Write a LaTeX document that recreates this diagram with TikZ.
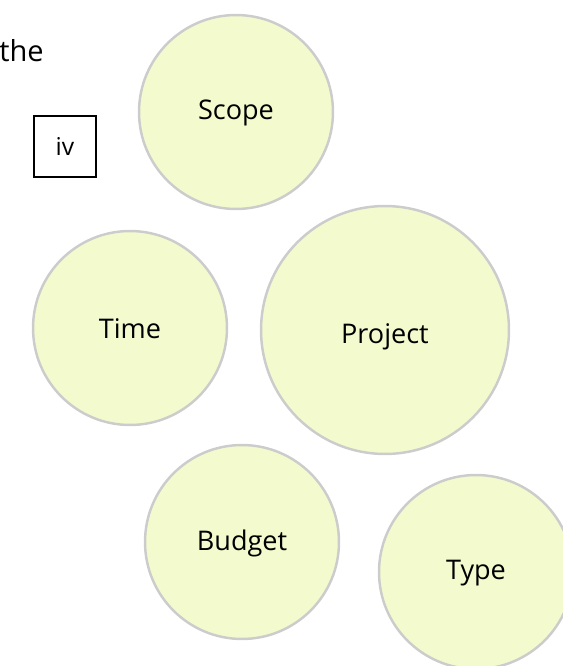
\documentclass[tikz,border=0pt]{standalone}
\usepackage{fontspec}
\setmainfont{Open Sans}
\usepackage{tikz}

\definecolor{topicfill}{RGB}{243,251,206}
\definecolor{topicline}{RGB}{204,204,204}

\tikzset{
  topic/.style={circle, draw=topicline, fill=topicfill, line width=1.4pt,
    inner sep=0pt},
  topictext/.style={font=\fontsize{15.4}{17}\selectfont},
  tagbox/.style={draw=black, line width=1.5pt, minimum width=1.24cm,
    minimum height=1.22cm, inner sep=0pt, font=\fontsize{14}{16}\selectfont}
}

\begin{document}
\begin{tikzpicture}[x=0.02cm,y=-0.02cm]
			\useasboundingbox (0,0) rectangle (562,666);
			\coordinate (centro) at (385,330);

			% circles
			\node[topic, minimum size=3.88cm] (scope) at (236,112) {};
			\node[topic, minimum size=3.88cm] (time) at (130,328) {};
			\node[topic, minimum size=4.96cm] (project) at (centro) {};
			\node[topic, minimum size=3.88cm] (budget) at (242,542) {};
			\node[topic, minimum size=3.88cm] (type) at (476,572) {};

			% labels
			\node[topictext] (scopetext) at (236,113) {Scope};
			\node[topictext] (timetext) at (130,329) {Time};
			\node[topictext] (projecttext) at (385,337) {Project};
			\node[topictext] (budgettext) at (242,543) {Budget};
			\node[topictext] (typetext) at (476,573) {Type};

			% loose text
			\node[anchor=base west, inner sep=0pt, font=\fontsize{16.5}{18}\selectfont] (word) at (-1,61) {the};
			\node[tagbox] (tag) at (65,146.5) {iv};
		\end{tikzpicture}
\end{document}
